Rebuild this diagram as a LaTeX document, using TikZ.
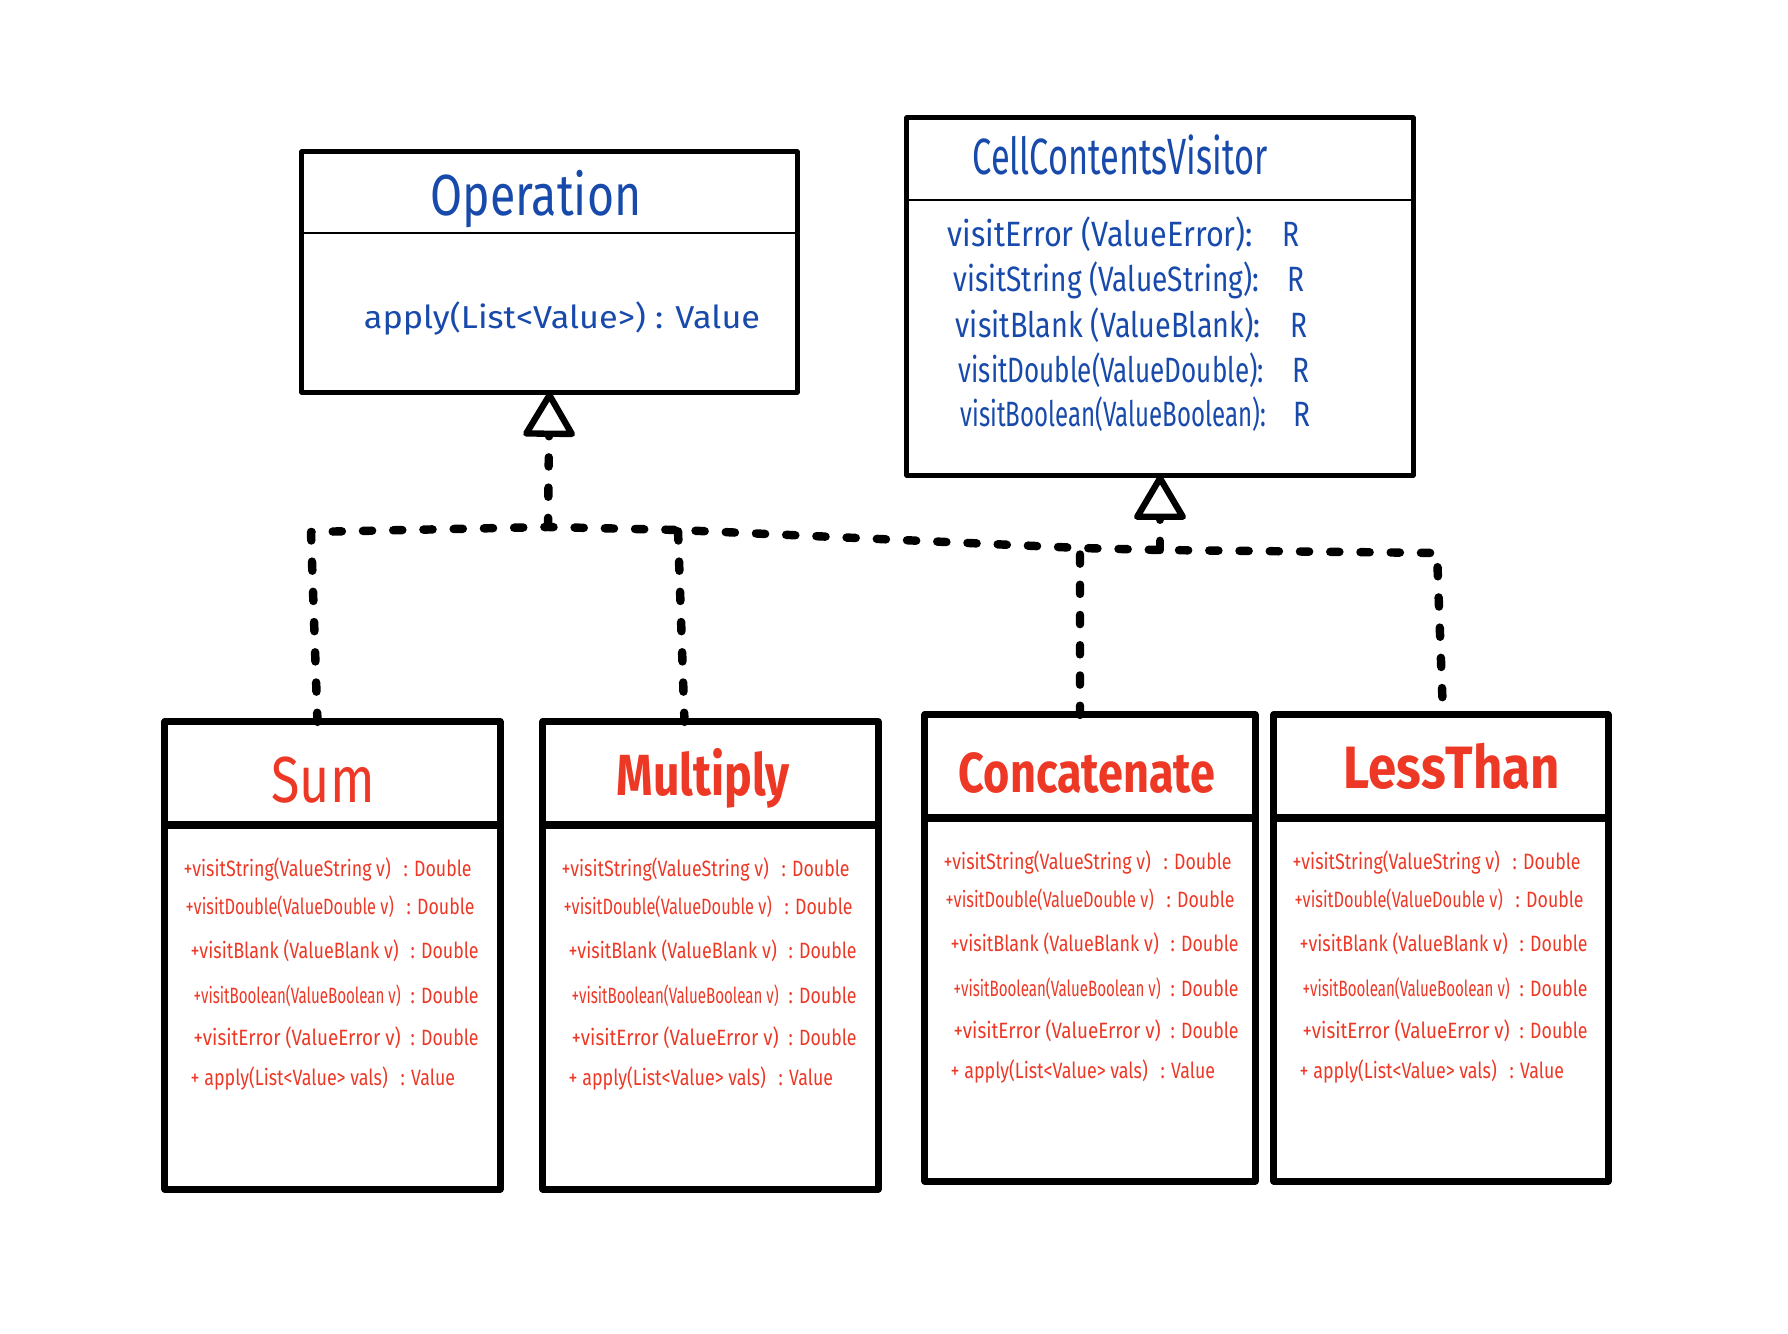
\documentclass[tikz,border=0pt]{standalone}
\usepackage{graphicx}
\usepackage{fontspec}
\setmainfont{Fira Sans}
\newfontfamily\hand[FakeStretch=0.8]{Fira Sans}
\newfontfamily\handn[FakeStretch=0.62]{Fira Sans}
\newfontfamily\handw{Fira Sans}
\usetikzlibrary{arrows.meta,calc}
\definecolor{inkblue}{RGB}{24,74,172}
\definecolor{inkred}{RGB}{238,56,38}
% stretch a piece of text to a given width, keeping its height
\newcommand\fitw[2]{\resizebox{#1}{\height}{#2}}

\begin{document}
\begin{tikzpicture}[x=0.01cm,y=-0.01cm,
  topbox/.style={draw=black, line width=1.4pt, inner sep=0pt, outer sep=0pt, line join=round},
  subbox/.style={draw=black, line width=2pt, inner sep=0pt, outer sep=0pt, line join=round},
  thindiv/.style={line width=0.6pt},
  thickdiv/.style={line width=2.2pt},
  realize/.style={line width=2.4pt, line cap=round, line join=round, dash pattern=on 2.6pt off 6pt},
  opentip/.style={-{Triangle[open, round, length=0.48cm, width=0.55cm, line width=1.8pt]}},
  txt/.style={inner sep=0pt, anchor=base west},
  title/.style={inner sep=0pt, anchor=base},
]
% page
\path[use as bounding box, fill=white] (0,0) rectangle (1788,1334);

% ---------- interfaces ----------
\node[topbox, minimum width=4.95cm, minimum height=2.40cm] (op) at (549.5,272) {};
\draw[thindiv] ([yshift=-0.81cm]op.north west) -- ([yshift=-0.81cm]op.north east);
\node[title, text=inkblue, font=\hand\fontsize{16.5}{18}\selectfont] (optitle) at (536,216) {Operation};
\node[title, text=inkblue, font=\handw\fontsize{9}{10}\selectfont] (opapply) at (562,329) {\fitw{3.96cm}{apply(List<Value>) : Value}};

\node[topbox, minimum width=5.06cm, minimum height=3.57cm] (vis) at (1160,296.5) {};
\draw[thindiv] ([yshift=-0.82cm]vis.north west) -- ([yshift=-0.82cm]vis.north east);
\node[title, text=inkblue, font=\handn\fontsize{14.5}{16}\selectfont] (vistitle) at (1120,175) {\fitw{2.95cm}{CellContentsVisitor}};
\foreach \i/\x/\y/\t/\rx in {
  1/947/247/{visitError (ValueError):}/1282,
  2/953/292/{visitString (ValueString):}/1287,
  3/955/338/{visitBlank (ValueBlank):}/1290,
  4/958/383/{visitDouble(ValueDouble):}/1292,
  5/960/427/{visitBoolean(ValueBoolean):}/1293}{
  \node[txt, text=inkblue, font=\hand\fontsize{10}{12}\selectfont] (vis-m\i) at (\x,\y) {\fitw{3.05cm}{\t}};
  \node[txt, text=inkblue, font=\hand\fontsize{10}{12}\selectfont] (vis-r\i) at (\rx,\y) {R};
}

% ---------- implementing classes ----------
\node[subbox, minimum width=3.35cm, minimum height=4.67cm] (sum) at (332.5,955.5) {};
\node[subbox, minimum width=3.35cm, minimum height=4.67cm] (mul) at (710.5,955.5) {};
\node[subbox, minimum width=3.30cm, minimum height=4.66cm] (cat) at (1090,948) {};
\node[subbox, minimum width=3.34cm, minimum height=4.66cm] (lt)  at (1441,948) {};
\foreach \b in {sum,mul,cat,lt}{
  \draw[thickdiv] ([yshift=-1.03cm]\b.north west) -- ([yshift=-1.03cm]\b.north east);
}
\node[title, text=inkred, font=\hand\fontsize{18.5}{20}\selectfont] (sumtitle) at (323,802) {Sum};
\node[title, text=inkred, font=\hand\bfseries\fontsize{16.5}{18}\selectfont] (multitle) at (703,795) {Multiply};
\node[title, text=inkred, font=\hand\bfseries\fontsize{16}{18}\selectfont] (cattitle) at (1087,792) {Concatenate};
\node[title, text=inkred, font=\hand\bfseries\fontsize{17}{19}\selectfont] (lttitle) at (1452,788) {\fitw{2.16cm}{LessThan}};

\foreach \b/\L/\T in {sum/165/722, mul/543/722, cat/925/715, lt/1274/715}{
  \foreach \i/\dx/\dy/\t/\w/\cx/\r in {
    1/18/154/{+visitString(ValueString v)}/2.07cm/238/Double,
    2/20/192/{+visitDouble(ValueDouble v)}/2.08cm/241/Double,
    3/25/236/{+visitBlank (ValueBlank v)}/2.08cm/245/Double,
    4/28/281/{+visitBoolean(ValueBoolean v)}/2.07cm/245/Double,
    5/28/323/{+visitError (ValueError v)}/2.07cm/245/Double,
    6/25/363/{+ apply(List<Value> vals)}/1.97cm/235/Value}{
    \node[txt, text=inkred, font=\hand\fontsize{6.3}{7}\selectfont] (\b-m\i) at (\L+\dx,\T+\dy) {\fitw{\w}{\t}};
    \node[txt, text=inkred, font=\hand\fontsize{6.3}{7}\selectfont] (\b-r\i) at (\L+\cx,\T+\dy) {: \r};
  }
}

% ---------- realization connectors ----------
\coordinate (jL)  at (311,532);
\coordinate (jOp) at (548,527);
\coordinate (jM)  at (678,530);
\coordinate (jC)  at (1080,548);
\coordinate (jV)  at (1160,550);
\coordinate (jR)  at (1437,553);

\draw[realize] ([xshift=-0.15cm]sum.north) -- (jL) -- (jOp) -- (jM) -- (jC) -- (jV) -- (jR) -- ([xshift=0.02cm]lt.north);
\draw[realize] ([xshift=-0.26cm]mul.north) -- (jM);
\draw[realize] ([xshift=-0.10cm]cat.north) -- (jC);
\draw[realize, opentip] (jOp) -- (op.south);
\draw[realize, opentip] (jV) -- (vis.south);
\end{tikzpicture}
\end{document}
